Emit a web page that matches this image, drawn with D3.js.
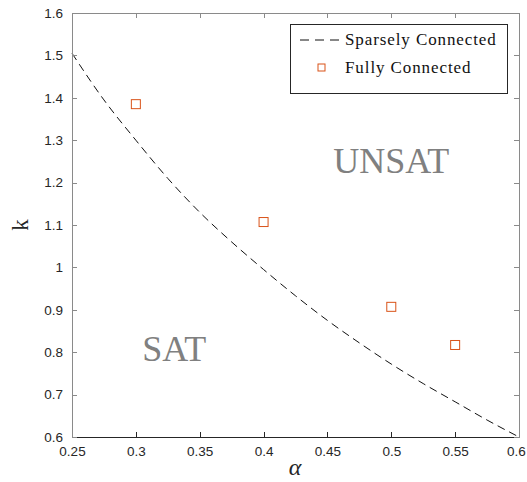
<!DOCTYPE html>
<html>
<head>
<meta charset="utf-8">
<script src="https://cdn.jsdelivr.net/npm/d3@7.9.0/dist/d3.min.js"></script>
<style>
  body { margin: 0; background: #fff; }
  svg { display: block; }
  .tick text { font-family: "Liberation Sans", Arial, sans-serif; font-size: 13.5px; fill: #262626; }
</style>
</head>
<body>
<svg id="chart" width="527" height="482"></svg>
<script>
// sparsely connected curve
const curveAlpha = [0.25, 0.275, 0.3, 0.325, 0.35, 0.375, 0.4, 0.425, 0.45, 0.475, 0.5, 0.525, 0.55, 0.575, 0.6];
const curveK = [1.505, 1.395, 1.30, 1.21, 1.13, 1.06, 0.995, 0.933, 0.875, 0.822, 0.772, 0.726, 0.683, 0.64, 0.6];

// fully connected points
const fullAlpha = [0.3, 0.4, 0.5, 0.55];
const fullK = [1.385, 1.107, 0.907, 0.817];

const xTicks = [0.25, 0.3, 0.35, 0.4, 0.45, 0.5, 0.55, 0.6];
const xTickLabels = ['0.25', '0.3', '0.35', '0.4', '0.45', '0.5', '0.55', '0.6'];
const yTicks = [0.6, 0.7, 0.8, 0.9, 1.0, 1.1, 1.2, 1.3, 1.4, 1.5, 1.6];
const yTickLabels = ['0.6', '0.7', '0.8', '0.9', '1', '1.1', '1.2', '1.3', '1.4', '1.5', '1.6'];

const seriesNames = ['Sparsely Connected', 'Fully Connected'];

const svg = d3.select('#chart');
const plotL = 72, plotR = 519, plotT = 13, plotB = 437;
const orange = '#D95319';
const gray = '#8a8a8a';
const dark = '#262626';
const serif = '"Liberation Serif", "Times New Roman", serif';

const x = d3.scaleLinear().domain([0.25, 0.6]).range([plotL, plotR]);
const y = d3.scaleLinear().domain([0.6, 1.6]).range([plotB, plotT]);

// region labels
svg.append('text')
  .attr('x', x(0.5)).attr('y', 173)
  .attr('text-anchor', 'middle')
  .style('font-family', serif)
  .style('font-size', '36px')
  .attr('fill', '#808080')
  .text('UNSAT');
svg.append('text')
  .attr('x', x(0.33)).attr('y', 361)
  .attr('text-anchor', 'middle')
  .style('font-family', serif)
  .style('font-size', '36px')
  .attr('fill', '#808080')
  .text('SAT');

// dashed curve
const line = d3.line()
  .x((d, i) => x(curveAlpha[i]))
  .y(d => y(d))
  .curve(d3.curveMonotoneX);
svg.append('path')
  .attr('d', line(curveK))
  .attr('fill', 'none')
  .attr('stroke', '#111')
  .attr('stroke-width', 1)
  .attr('stroke-dasharray', '8,5');

// square markers
svg.selectAll('rect.full')
  .data(fullK)
  .join('rect')
  .attr('class', 'full')
  .attr('x', (d, i) => x(fullAlpha[i]) - 4.5)
  .attr('y', d => y(d) - 4.5)
  .attr('width', 9).attr('height', 9)
  .attr('fill', 'none')
  .attr('stroke', orange)
  .attr('stroke-width', 1);

// axes
const xAxis = svg.append('g')
  .attr('transform', `translate(0,${plotB})`)
  .call(d3.axisBottom(x).tickValues(xTicks).tickSize(-5).tickPadding(9)
    .tickFormat((d, i) => xTickLabels[i]));
xAxis.select('.domain').attr('stroke', dark);
xAxis.selectAll('.tick line').attr('stroke', dark);
// last label sits at the window edge
xAxis.selectAll('.tick text').filter(d => d === 0.6).attr('dx', -3);

const yAxis = svg.append('g')
  .attr('transform', `translate(${plotL},0)`)
  .call(d3.axisLeft(y).tickValues(yTicks).tickSize(-5).tickPadding(9)
    .tickFormat((d, i) => yTickLabels[i]));
yAxis.select('.domain').attr('stroke', gray);
yAxis.selectAll('.tick line').attr('stroke', gray);

const topAxis = svg.append('g')
  .attr('transform', `translate(0,${plotT})`)
  .call(d3.axisTop(x).tickValues(xTicks).tickSize(-5).tickFormat(''));
topAxis.select('.domain').attr('stroke', gray);
topAxis.selectAll('.tick line').attr('stroke', gray);

const rightAxis = svg.append('g')
  .attr('transform', `translate(${plotR},0)`)
  .call(d3.axisRight(y).tickValues(yTicks).tickSize(-5).tickFormat(''));
rightAxis.select('.domain').attr('stroke', gray);
rightAxis.selectAll('.tick line').attr('stroke', gray);

svg.selectAll('.domain, .tick line').attr('shape-rendering', 'crispEdges');

// axis labels
svg.append('text')
  .attr('transform', 'translate(28,225) rotate(-90)')
  .attr('text-anchor', 'middle')
  .style('font-family', serif)
  .style('font-size', '23px')
  .attr('fill', dark)
  .text('k');
svg.append('text')
  .attr('x', 295).attr('y', 475)
  .attr('text-anchor', 'middle')
  .style('font-family', serif)
  .style('font-style', 'italic')
  .style('font-size', '24px')
  .attr('fill', dark)
  .text('α');

// legend
const legend = svg.append('g');
legend.append('rect')
  .attr('x', 290.5).attr('y', 24.5)
  .attr('width', 217).attr('height', 69)
  .attr('fill', '#fff')
  .attr('stroke', dark)
  .attr('stroke-width', 1);
legend.append('line')
  .attr('x1', 300).attr('x2', 345)
  .attr('y1', 40).attr('y2', 40)
  .attr('stroke', '#111')
  .attr('stroke-dasharray', '9,6');
legend.append('rect')
  .attr('x', 318).attr('y', 64)
  .attr('width', 7).attr('height', 7)
  .attr('fill', 'none')
  .attr('stroke', orange);
legend.selectAll('text.leg')
  .data(seriesNames)
  .join('text')
  .attr('class', 'leg')
  .attr('x', 345)
  .attr('y', (d, i) => 45 + i * 28)
  .style('font-family', serif)
  .style('font-size', '17px')
  .style('letter-spacing', '0.9px')
  .attr('fill', '#111')
  .text(d => d);
</script>
</body>
</html>
